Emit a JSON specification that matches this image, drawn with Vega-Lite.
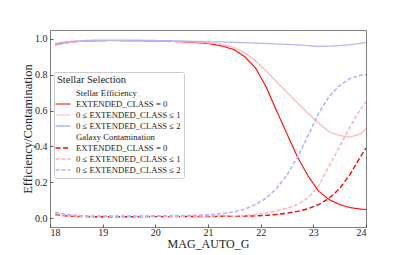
{
  "$schema": "https://vega.github.io/schema/vega-lite/v6.json",
  "width": 316,
  "height": 197,
  "autosize": {"type": "none"},
  "padding": {"left": 50, "top": 30, "right": 41, "bottom": 28},
  "data": {"values": [
    {"m": 18.1, "a0": 0.968, "a1": 0.965, "a2": 0.976, "b0": 0.020, "b1": 0.025, "b2": 0.032},
    {"m": 18.3, "a0": 0.978, "a1": 0.977, "a2": 0.983, "b0": 0.012, "b1": 0.015, "b2": 0.020},
    {"m": 18.5, "a0": 0.985, "a1": 0.985, "a2": 0.989, "b0": 0.009, "b1": 0.011, "b2": 0.015},
    {"m": 18.7, "a0": 0.988, "a1": 0.988, "a2": 0.992, "b0": 0.008, "b1": 0.010, "b2": 0.012},
    {"m": 18.9, "a0": 0.990, "a1": 0.990, "a2": 0.994, "b0": 0.007, "b1": 0.009, "b2": 0.011},
    {"m": 19.1, "a0": 0.991, "a1": 0.991, "a2": 0.994, "b0": 0.007, "b1": 0.009, "b2": 0.011},
    {"m": 19.3, "a0": 0.991, "a1": 0.991, "a2": 0.994, "b0": 0.007, "b1": 0.009, "b2": 0.011},
    {"m": 19.5, "a0": 0.990, "a1": 0.990, "a2": 0.993, "b0": 0.007, "b1": 0.009, "b2": 0.011},
    {"m": 19.7, "a0": 0.990, "a1": 0.990, "a2": 0.993, "b0": 0.007, "b1": 0.009, "b2": 0.011},
    {"m": 19.9, "a0": 0.989, "a1": 0.989, "a2": 0.992, "b0": 0.008, "b1": 0.009, "b2": 0.012},
    {"m": 20.1, "a0": 0.988, "a1": 0.988, "a2": 0.991, "b0": 0.008, "b1": 0.010, "b2": 0.012},
    {"m": 20.3, "a0": 0.986, "a1": 0.987, "a2": 0.990, "b0": 0.008, "b1": 0.010, "b2": 0.013},
    {"m": 20.5, "a0": 0.984, "a1": 0.985, "a2": 0.989, "b0": 0.008, "b1": 0.010, "b2": 0.014},
    {"m": 20.7, "a0": 0.981, "a1": 0.983, "a2": 0.987, "b0": 0.009, "b1": 0.010, "b2": 0.015},
    {"m": 20.9, "a0": 0.977, "a1": 0.980, "a2": 0.986, "b0": 0.009, "b1": 0.011, "b2": 0.017},
    {"m": 21.1, "a0": 0.970, "a1": 0.976, "a2": 0.984, "b0": 0.009, "b1": 0.011, "b2": 0.020},
    {"m": 21.3, "a0": 0.958, "a1": 0.968, "a2": 0.983, "b0": 0.010, "b1": 0.012, "b2": 0.025},
    {"m": 21.5, "a0": 0.940, "a1": 0.952, "a2": 0.981, "b0": 0.010, "b1": 0.013, "b2": 0.035},
    {"m": 21.7, "a0": 0.900, "a1": 0.922, "a2": 0.979, "b0": 0.011, "b1": 0.015, "b2": 0.050},
    {"m": 21.9, "a0": 0.839, "a1": 0.878, "a2": 0.977, "b0": 0.012, "b1": 0.020, "b2": 0.075},
    {"m": 22.1, "a0": 0.735, "a1": 0.822, "a2": 0.975, "b0": 0.015, "b1": 0.028, "b2": 0.110},
    {"m": 22.3, "a0": 0.600, "a1": 0.762, "a2": 0.972, "b0": 0.020, "b1": 0.040, "b2": 0.165},
    {"m": 22.5, "a0": 0.470, "a1": 0.702, "a2": 0.970, "b0": 0.027, "b1": 0.055, "b2": 0.240},
    {"m": 22.7, "a0": 0.340, "a1": 0.643, "a2": 0.967, "b0": 0.037, "b1": 0.076, "b2": 0.340},
    {"m": 22.9, "a0": 0.235, "a1": 0.585, "a2": 0.963, "b0": 0.052, "b1": 0.112, "b2": 0.460},
    {"m": 23.1, "a0": 0.150, "a1": 0.530, "a2": 0.958, "b0": 0.075, "b1": 0.180, "b2": 0.585},
    {"m": 23.3, "a0": 0.103, "a1": 0.482, "a2": 0.960, "b0": 0.110, "b1": 0.290, "b2": 0.680},
    {"m": 23.5, "a0": 0.075, "a1": 0.460, "a2": 0.963, "b0": 0.165, "b1": 0.400, "b2": 0.740},
    {"m": 23.7, "a0": 0.058, "a1": 0.452, "a2": 0.968, "b0": 0.245, "b1": 0.510, "b2": 0.780},
    {"m": 23.9, "a0": 0.050, "a1": 0.470, "a2": 0.976, "b0": 0.345, "b1": 0.610, "b2": 0.798},
    {"m": 24.0, "a0": 0.048, "a1": 0.500, "a2": 0.980, "b0": 0.390, "b1": 0.650, "b2": 0.800}
  ]},
  "transform": [{"fold": ["a0", "a1", "a2", "b0", "b1", "b2"], "as": ["series", "value"]}],
  "mark": {"type": "line", "clip": true},
  "encoding": {
    "x": {"field": "m", "type": "quantitative",
      "scale": {"domain": [18, 24], "nice": false, "zero": false},
      "axis": {"title": "MAG_AUTO_G", "values": [18, 19, 20, 21, 22, 23, 24], "format": "d"}},
    "y": {"field": "value", "type": "quantitative",
      "scale": {"domain": [-0.05, 1.05], "nice": false, "zero": false},
      "axis": {"title": "Efficiency/Contamination", "values": [0, 0.2, 0.4, 0.6, 0.8, 1.0], "format": ".1f"}},
    "color": {"field": "series", "type": "nominal",
      "scale": {"domain": ["se", "a0", "a1", "a2", "gc", "b0", "b1", "b2"],
        "range": ["transparent", "#ff0000", "#ffb3b3", "#b3b3ff", "transparent", "#ff0000", "#ffb3b3", "#b3b3ff"]},
      "legend": {"title": "Stellar Selection",
        "labelExpr": "{'se':'Stellar Efficiency','a0':'EXTENDED_CLASS = 0','a1':'0 ≤ EXTENDED_CLASS ≤ 1','a2':'0 ≤ EXTENDED_CLASS ≤ 2','gc':'Galaxy Contamination','b0':'EXTENDED_CLASS = 0','b1':'0 ≤ EXTENDED_CLASS ≤ 1','b2':'0 ≤ EXTENDED_CLASS ≤ 2'}[datum.label]"}},
    "strokeDash": {"field": "series", "type": "nominal",
      "scale": {"domain": ["se", "a0", "a1", "a2", "gc", "b0", "b1", "b2"],
        "range": [[1, 0], [1, 0], [1, 0], [1, 0], [1, 0], [5, 2.5], [4, 2], [4, 2]]},
      "legend": {"title": "Stellar Selection",
        "labelExpr": "{'se':'Stellar Efficiency','a0':'EXTENDED_CLASS = 0','a1':'0 ≤ EXTENDED_CLASS ≤ 1','a2':'0 ≤ EXTENDED_CLASS ≤ 2','gc':'Galaxy Contamination','b0':'EXTENDED_CLASS = 0','b1':'0 ≤ EXTENDED_CLASS ≤ 1','b2':'0 ≤ EXTENDED_CLASS ≤ 2'}[datum.label]"}},
    "strokeWidth": {"field": "series", "type": "nominal",
      "scale": {"domain": ["se", "a0", "a1", "a2", "gc", "b0", "b1", "b2"],
        "range": [1, 1.6, 1.4, 1.4, 1, 1.6, 1.3, 1.3]},
      "legend": {"title": "Stellar Selection",
        "labelExpr": "{'se':'Stellar Efficiency','a0':'EXTENDED_CLASS = 0','a1':'0 ≤ EXTENDED_CLASS ≤ 1','a2':'0 ≤ EXTENDED_CLASS ≤ 2','gc':'Galaxy Contamination','b0':'EXTENDED_CLASS = 0','b1':'0 ≤ EXTENDED_CLASS ≤ 1','b2':'0 ≤ EXTENDED_CLASS ≤ 2'}[datum.label]"}}
  },
  "config": {
    "font": "Liberation Serif",
    "view": {"stroke": "#808080", "strokeWidth": 1},
    "axis": {
      "domain": false, "grid": false,
      "tickSize": -3, "tickColor": "#333333", "tickWidth": 0.8,
      "labelFont": "Liberation Serif", "labelFontSize": 10, "labelColor": "#222222", "labelPadding": 6,
      "titleFont": "Liberation Serif", "titleFontWeight": "normal", "titleColor": "#222222"
    },
    "axisX": {"titleFontSize": 12, "titlePadding": 1.5, "labelPadding": 3},
    "axisY": {"titleFontSize": 12.5, "titlePadding": 0},
    "legend": {
      "orient": "none", "legendX": 4, "legendY": 42,
      "symbolType": "M-1.5,0H1.5", "symbolSize": 100, "symbolStrokeWidth": 1.5,
      "labelFont": "Liberation Serif", "labelFontSize": 8.7, "labelColor": "#222222", "labelOffset": 7,
      "titleFont": "Liberation Serif", "titleFontSize": 10.5, "titleFontWeight": "normal", "titleColor": "#222222",
      "titlePadding": 1.5, "rowPadding": -0.5, "padding": 3,
      "strokeColor": "#cccccc", "fillColor": "rgba(255,255,255,0.85)", "cornerRadius": 2
    }
  }
}
